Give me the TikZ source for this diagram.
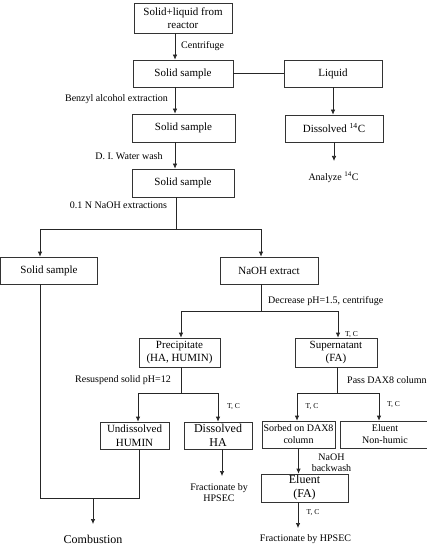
\documentclass[tikz,border=0pt]{standalone}
\usepackage{fontspec}
\setmainfont{Liberation Serif}
\usetikzlibrary{arrows.meta}
\begin{document}
\begin{tikzpicture}[x=1pt,y=-1pt,
  box/.style={draw=black!80, line width=0.7pt, rectangle, inner sep=0pt, align=center},
  fa/.style={font=\fontsize{11}{13.5}\selectfont},
  fb/.style={font=\fontsize{12}{14}\selectfont},
  lbl/.style={inner sep=0pt, align=center, font=\fontsize{10}{11.5}\selectfont},
  tc/.style={inner sep=0pt, font=\fontsize{7.5}{9}\selectfont},
  conn/.style={draw=black!85, line width=0.7pt},
  arr/.style={conn, -{Latex[length=5pt,width=4.5pt]}}]
\useasboundingbox (0,0) rectangle (426,545);
% boxes
\node[box, fa, minimum width=98pt, minimum height=30pt] (b1) at (183,18) {Solid+liquid from\\reactor};
\node[box, fa, minimum width=100pt, minimum height=27pt] (b2) at (183,73.5) {Solid sample};
\node[box, fa, minimum width=98pt, minimum height=27pt] (liq) at (333,73.5) {Liquid};
\node[box, fa, minimum width=103pt, minimum height=28pt] (b3) at (183.5,128) {Solid sample};
\node[box, fa, minimum width=98pt, minimum height=27pt] (dis) at (334,128.5) {Dissolved \textsuperscript{14}C};
\node[box, fa, minimum width=102pt, minimum height=28pt] (b4) at (183,183) {Solid sample};
\node[box, fa, minimum width=97pt, minimum height=27pt] (b5) at (49,270.5) {Solid sample};
\node[box, fa, minimum width=98pt, minimum height=27pt] (nx) at (269,270.5) {NaOH extract};
\node[box, fa, minimum width=81pt, minimum height=29pt] (pre) at (179.5,352.5) {Precipitate\\(HA, HUMIN)};
\node[box, fa, minimum width=82pt, minimum height=29pt] (sup) at (336,352.5) {Supernatant\\(FA)};
\node[box, fa, minimum width=69pt, minimum height=27pt] (und) at (134.5,435.5) {Undissolved\\HUMIN};
\node[box, fb, minimum width=68pt, minimum height=27pt] (dha) at (218,435.5) {Dissolved\\HA};
\node[box, font=\fontsize{10}{12}\selectfont, minimum width=73pt, minimum height=27pt] (sor) at (298.5,434.5) {Sorbed on DAX8\\column};
\node[box, font=\fontsize{10}{12}\selectfont, minimum width=90pt, minimum height=27pt] (enh) at (385,434.5) {Eluent\\Non-humic};
\node[box, fb, minimum width=87pt, minimum height=28pt] (efa) at (304.5,488) {Eluent\\(FA)};
% labels
\node[lbl, anchor=west] (l1) at (181,46) {Centrifuge};
\node[lbl] (l2) at (116.5,99) {Benzyl alcohol extraction};
\node[lbl] (l3) at (129,156) {D. I. Water wash};
\node[lbl] (ana) at (333.5,177) {Analyze \textsuperscript{14}C};
\node[lbl] (l4) at (118.5,205) {0.1 N NaOH extractions};
\node[lbl, anchor=west] (l5) at (268,301) {Decrease pH=1.5, centrifuge};
\node[tc] (tc1) at (351.5,335) {T, C};
\node[lbl] (l6) at (123,380) {Resuspend solid pH=12};
\node[lbl, anchor=west] (l7) at (347,380) {Pass DAX8 column};
\node[tc] (tc2) at (233.5,407) {T, C};
\node[tc] (tc3) at (312,407) {T, C};
\node[tc] (tc4) at (393.5,405) {T, C};
\node[lbl] (l8) at (331.5,462.5) {NaOH\\backwash};
\node[lbl] (fr1) at (219,492.5) {Fractionate by\\HPSEC};
\node[tc] (tc5) at (313,513) {T, C};
\node[lbl, anchor=south] (fr2) at (305.5,544) {Fractionate by HPSEC};
\node[lbl, font=\fontsize{12}{14}\selectfont, anchor=south] (comb) at (93,544) {Combustion};
% coordinates
\coordinate (s1) at (176,229);
\coordinate (s2) at (261,311);
\coordinate (s3) at (181,393);
\coordinate (s4) at (337,393);
\coordinate (a1) at (334,161);
\coordinate (a2) at (222,476);
\coordinate (a3) at (298,528);
\coordinate (j2) at (139,498);
\coordinate (j3) at (93,498);
\coordinate (a4) at (93,524);
% connectors
\draw[arr] ([xshift=-8pt]b1.south) -- ([xshift=-8pt]b1.south |- b2.north);
\draw[conn] (b2.east) -- (liq.west);
\draw[arr] (liq.south) -- (liq.south |- dis.north);
\draw[arr] ([xshift=-8pt]b2.south) -- ([xshift=-8pt]b2.south |- b3.north);
\draw[arr] ([xshift=-8pt]b2.south |- b3.south) -- ([xshift=-8pt]b2.south |- b4.north);
\draw[arr] (dis.south) -- (a1);
\draw[conn] ([xshift=-7pt]b4.south) -- (s1);
\draw[arr] (s1) -| ([xshift=-9pt]b5.north);
\draw[arr] (s1) -| ([xshift=-8pt]nx.north);
\draw[conn] ([xshift=-8pt]nx.south) -- (s2);
\draw[arr] (s2) -| ([xshift=1.5pt]pre.north);
\draw[arr] (s2) -| ([xshift=2pt]sup.north);
\draw[conn] ([xshift=1.5pt]pre.south) -- (s3);
\draw[arr] (s3) -| ([xshift=3.5pt]und.north);
\draw[arr] (s3) -| (dha.north);
\draw[conn] ([xshift=1pt]sup.south) -- (s4);
\draw[arr] (s4) -| ([xshift=-1.5pt]sor.north);
\draw[arr] (s4) -| ([xshift=-6pt]enh.north);
\draw[arr] ([xshift=4pt]dha.south) -- (a2);
\draw[arr] (sor.south) -- (sor.south |- efa.north);
\draw[arr] ([xshift=-6.5pt]efa.south) -- (a3);
\draw[conn] ([xshift=-9pt]b5.south) |- (j2) -- ([xshift=4.5pt]und.south);
\draw[arr] (j3) -- (a4);
\end{tikzpicture}
\end{document}
